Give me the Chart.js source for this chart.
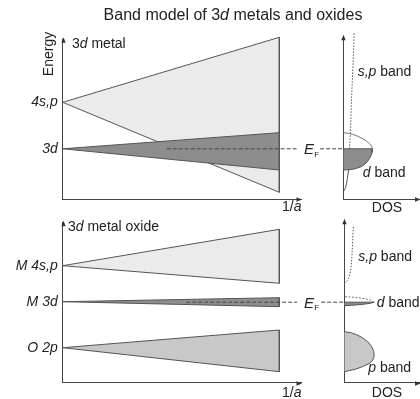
<!DOCTYPE html>
<html>
<head>
<meta charset="utf-8">
<script src="https://cdn.jsdelivr.net/npm/chart.js@4/dist/chart.umd.min.js"></script>
<style>
  html, body { margin: 0; padding: 0; background: #fff; }
  #wrap { position: relative; width: 420px; height: 399px; overflow: hidden; background: #fff; }
  #wrap canvas { position: absolute; left: 0; top: 0; }
</style>
</head>
<body>
<div id="wrap">
  <canvas id="metalBands" width="420" height="399"></canvas>
  <canvas id="metalDos" width="420" height="399"></canvas>
  <canvas id="oxideBands" width="420" height="399"></canvas>
  <canvas id="oxideDos" width="420" height="399"></canvas>
</div>
<script>
// ---------- data (energy in arbitrary units, 1/a from 0 to 1, DOS in arbitrary units) ----------
const latticeEnd = 1.0;

// 3d metal: atomic levels and band edges reached at 1/a = 1
const metalLevelNames = ['4s,p', '3d'];
const metalLevels = [9.7, 5.05];
const metalUpperEdges = [16.2, 6.66];
const metalLowerEdges = [0.7, 2.93];
const metalFermi = 5.05;

// 3d metal DOS
const metalDEnergyFilled = [5.05, 4.7, 4.4, 4.1, 3.8, 3.5, 3.25, 3.05, 2.95, 2.93];
const metalDDosFilled    = [1.0, 0.98, 0.95, 0.9, 0.83, 0.73, 0.6, 0.4, 0.18, 0];
const metalDEnergyEmpty  = [5.05, 5.3, 5.55, 5.8, 6.05, 6.3, 6.5, 6.6, 6.66];
const metalDDosEmpty     = [1.0, 0.97, 0.9, 0.8, 0.67, 0.5, 0.32, 0.18, 0];
const metalSpEnergyFilled = [0.75, 0.9, 1.2, 1.6, 2.1, 2.93, 4.0, 5.05];
const metalSpDosFilled    = [0, 0.04, 0.08, 0.11, 0.14, 0.18, 0.2, 0.21];
const metalSpEnergyEmpty  = [5.05, 6.43, 8, 10, 12, 14, 16.6];
const metalSpDosEmpty     = [0.21, 0.24, 0.26, 0.28, 0.31, 0.34, 0.37];

// 3d metal oxide: levels and band edges at 1/a = 1
const oxideLevelNames = ['M 4s,p', 'M 3d', 'O 2p'];
const oxideLevels = [11.7, 8.1, 3.5];
const oxideUpperEdges = [15.34, 8.5, 5.27];
const oxideLowerEdges = [9.94, 7.6, 1.1];
const oxideFermi = 8.05;

// 3d metal oxide DOS
const oxideSpEnergy = [9.94, 10.05, 10.2, 10.45, 10.8, 11.5, 12.6, 13.8, 15.6];
const oxideSpDos    = [0, 0.05, 0.1, 0.15, 0.19, 0.23, 0.26, 0.28, 0.31];
const oxideDEnergyFilled = [8.05, 7.95, 7.87, 7.8, 7.74, 7.7];
const oxideDDosFilled    = [1.02, 0.9, 0.72, 0.5, 0.25, 0];
const oxideDEnergyEmpty  = [8.05, 8.15, 8.25, 8.35, 8.45, 8.55, 8.6];
const oxideDDosEmpty     = [1.02, 0.98, 0.9, 0.78, 0.58, 0.3, 0];
const oxidePEnergy = [5.1, 5.0, 4.8, 4.5, 4.1, 3.6, 3.1, 2.6, 2.2, 1.9, 1.6, 1.35, 1.1];
const oxidePDos    = [0, 0.22, 0.42, 0.62, 0.8, 0.94, 1.01, 1.02, 0.96, 0.84, 0.62, 0.38, 0];

// ---------- styling ----------
const FONT = '"Liberation Sans", Arial, Helvetica, sans-serif';
const INK = '#222';
const EDGE = '#555';
const LIGHT = '#ebebeb';
const DARK = '#8d8d8d';
const MID = '#c8c8c8';

// ---------- helpers ----------
const pts = (xs, ys) => xs.map((x, i) => ({ x, y: ys[i] }));
const dosPts = (energies, dos) => energies.map((e, i) => ({ x: dos[i], y: e }));

function wedge(level, upper, lower) {
  return [
    { x: 0, y: level },
    { x: latticeEnd, y: upper },
    { x: latticeEnd, y: lower },
    { x: 0, y: level }
  ];
}

function closedToAxis(energies, dos) {
  const curve = dosPts(energies, dos);
  return [{ x: 0, y: energies[0] }, ...curve, { x: 0, y: energies[energies.length - 1] }];
}

function lineSet(data, opts) {
  return Object.assign({
    data,
    borderColor: EDGE,
    borderWidth: 1,
    pointRadius: 0,
    tension: 0,
    fill: false,
    clip: false,
    borderJoinStyle: 'miter'
  }, opts);
}

// axisBox: width reserved left of the plot for the energy level names
function scalesFor(xMax, yMax, axisBox, tickValues, tickNames) {
  const y = {
    type: 'linear', position: 'left', min: 0, max: yMax,
    grid: { display: false, drawTicks: false },
    border: { display: true, color: '#444', width: 1 },
    afterFit: s => { s.width = axisBox; }
  };
  if (tickValues) {
    y.ticks = {
      display: true, autoSkip: false, padding: 5, color: INK,
      font: { family: FONT, size: 14, style: 'italic' },
      callback: (v, i) => tickNames[i]
    };
    y.afterBuildTicks = s => { s.ticks = tickValues.map(v => ({ value: v })); };
  } else {
    y.ticks = { display: false };
  }
  return {
    x: {
      type: 'linear', position: 'bottom', min: 0, max: xMax,
      grid: { display: false, drawTicks: false },
      border: { display: true, color: '#444', width: 1 },
      ticks: { display: false },
      afterFit: s => { s.height = 0; }
    },
    y
  };
}

// arrowheads at the ends of both axes
const arrowHeads = {
  id: 'arrowHeads',
  afterDraw(chart) {
    const { ctx, chartArea: a } = chart;
    const xl = Math.round(a.left) + 0.5;
    const yb = Math.round(a.bottom) + 0.5;
    ctx.save();
    ctx.fillStyle = '#333';
    ctx.beginPath();
    ctx.moveTo(xl, a.top - 2);
    ctx.lineTo(xl - 2.2, a.top + 3.5);
    ctx.lineTo(xl + 2.2, a.top + 3.5);
    ctx.closePath();
    ctx.fill();
    ctx.beginPath();
    ctx.moveTo(a.right + 1, yb);
    ctx.lineTo(a.right - 4.5, yb - 2.2);
    ctx.lineTo(a.right - 4.5, yb + 2.2);
    ctx.closePath();
    ctx.fill();
    ctx.restore();
  }
};

function baseOptions(padding, scales) {
  return {
    responsive: false,
    animation: false,
    devicePixelRatio: 1,
    events: [],
    layout: { padding },
    scales,
    plugins: { legend: { display: false }, tooltip: { enabled: false }, title: { display: false } }
  };
}

// ---------- 3d metal: bands vs 1/a ----------
const metalBandChart = new Chart(document.getElementById('metalBands'), {
  type: 'line',
  data: {
    datasets: [
      lineSet(wedge(metalLevels[0], metalUpperEdges[0], metalLowerEdges[0]),
        { fill: 'shape', backgroundColor: LIGHT, order: 2 }),
      lineSet(wedge(metalLevels[1], metalUpperEdges[1], metalLowerEdges[1]),
        { fill: 'shape', backgroundColor: DARK, order: 1 }),
      lineSet(pts([0.48, 1.082], [metalFermi, metalFermi]),
        { borderColor: '#444', borderDash: [4, 2], order: 0 })
    ]
  },
  options: baseOptions({ left: 0.7, right: 119, top: 39.3, bottom: 199.7 },
    scalesFor(1.1, 16, 62, metalLevels, metalLevelNames)),
  plugins: [arrowHeads]
});

// ---------- 3d metal: density of states ----------
const metalDosChart = new Chart(document.getElementById('metalDos'), {
  type: 'line',
  data: {
    datasets: [
      lineSet(dosPts(metalSpEnergyFilled, metalSpDosFilled), { order: 4 }),
      lineSet(closedToAxis(metalDEnergyFilled, metalDDosFilled),
        { fill: 'shape', backgroundColor: DARK, order: 3 }),
      lineSet(dosPts(metalDEnergyEmpty, metalDDosEmpty), { borderColor: '#777', order: 2 }),
      lineSet(dosPts(metalSpEnergyEmpty, metalSpDosEmpty),
        { borderColor: '#555', borderDash: [1.5, 1.5], order: 1 }),
      lineSet(pts([-0.79, 0], [metalFermi, metalFermi]),
        { borderColor: '#444', borderDash: [4, 2], order: 0 })
    ]
  },
  options: baseOptions({ left: 343.3, right: 0.5, top: 36.7, bottom: 199.7 },
    scalesFor(2.6, 16.26, 0)),
  plugins: [arrowHeads]
});

// ---------- 3d metal oxide: bands vs 1/a ----------
const oxideBandChart = new Chart(document.getElementById('oxideBands'), {
  type: 'line',
  data: {
    datasets: [
      lineSet(wedge(oxideLevels[0], oxideUpperEdges[0], oxideLowerEdges[0]),
        { fill: 'shape', backgroundColor: LIGHT, order: 3 }),
      lineSet(wedge(oxideLevels[1], oxideUpperEdges[1], oxideLowerEdges[1]),
        { fill: 'shape', backgroundColor: DARK, order: 1 }),
      lineSet(wedge(oxideLevels[2], oxideUpperEdges[2], oxideLowerEdges[2]),
        { fill: 'shape', backgroundColor: MID, order: 2 }),
      lineSet(pts([0.57, 1.082], [oxideFermi, oxideFermi]),
        { borderColor: '#444', borderDash: [4, 2], order: 0 })
    ]
  },
  options: baseOptions({ left: 0.7, right: 119, top: 222.7, bottom: 16.3 },
    scalesFor(1.1, 16, 62, oxideLevels, oxideLevelNames)),
  plugins: [arrowHeads]
});

// ---------- free text: title, panel names, axis names, band names ----------
const notes = [
  { parts: [['Band model of 3', 0], ['d', 1], [' metals and oxides', 0]], x: 233, y: 20, size: 16, align: 'center' },
  { parts: [['3', 0], ['d', 1], [' metal', 0]], x: 72, y: 48, size: 14, align: 'left' },
  { parts: [['3', 0], ['d', 1], [' metal oxide', 0]], x: 68, y: 231, size: 14, align: 'left' },
  { parts: [['1/', 0], ['a', 1]], x: 301.5, y: 211, size: 14, align: 'right' },
  { parts: [['1/', 0], ['a', 1]], x: 301.5, y: 397, size: 14, align: 'right' },
  { parts: [['DOS', 0]], x: 387, y: 211.5, size: 14, align: 'center' },
  { parts: [['DOS', 0]], x: 387, y: 396.5, size: 14, align: 'center' },
  { parts: [['s,p', 1], [' band', 0]], x: 357.7, y: 76, size: 14, align: 'left' },
  { parts: [['d', 1], [' band', 0]], x: 362.7, y: 176.5, size: 14, align: 'left' },
  { parts: [['s,p', 1], [' band', 0]], x: 358.3, y: 260.5, size: 14, align: 'left' },
  { parts: [['d', 1], [' band', 0]], x: 376.7, y: 306.5, size: 14, align: 'left' },
  { parts: [['p', 1], [' band', 0]], x: 368.3, y: 372, size: 14, align: 'left' }
];

function drawRich(ctx, parts, x, y, size, align) {
  const fontFor = it => (it ? 'italic ' : '') + size + 'px ' + FONT;
  let w = 0;
  parts.forEach(([t, it]) => { ctx.font = fontFor(it); w += ctx.measureText(t).width; });
  let cx = align === 'center' ? x - w / 2 : align === 'right' ? x - w : x;
  ctx.textAlign = 'left';
  ctx.textBaseline = 'alphabetic';
  parts.forEach(([t, it]) => {
    ctx.font = fontFor(it);
    ctx.fillText(t, cx, y);
    cx += ctx.measureText(t).width;
  });
}

const textLayer = {
  id: 'textLayer',
  afterDraw(chart) {
    const ctx = chart.ctx;
    ctx.save();
    ctx.fillStyle = INK;
    notes.forEach(n => drawRich(ctx, n.parts, n.x, n.y, n.size, n.align));

    // vertical axis name
    ctx.save();
    ctx.translate(53, 54);
    ctx.rotate(-Math.PI / 2);
    ctx.font = '14px ' + FONT;
    ctx.textAlign = 'center';
    ctx.textBaseline = 'alphabetic';
    ctx.fillText('Energy', 0, 0);
    ctx.restore();

    // Fermi level labels, placed on the Fermi energy of each band panel
    const fermiRows = [
      metalBandChart.scales.y.getPixelForValue(metalFermi),
      oxideBandChart.scales.y.getPixelForValue(oxideFermi)
    ];
    fermiRows.forEach(py => {
      ctx.font = 'italic 15px ' + FONT;
      ctx.textAlign = 'left';
      ctx.fillText('E', 304, py + 5.6);
      ctx.font = '8px ' + FONT;
      ctx.fillText('F', 314.3, py + 8);
    });
    ctx.restore();
  }
};

// ---------- 3d metal oxide: density of states ----------
const oxideDosChart = new Chart(document.getElementById('oxideDos'), {
  type: 'line',
  data: {
    datasets: [
      lineSet(closedToAxis(oxidePEnergy, oxidePDos),
        { fill: 'shape', backgroundColor: MID, order: 4 }),
      lineSet(dosPts(oxideSpEnergy, oxideSpDos),
        { borderColor: '#555', borderDash: [1.5, 1.5], order: 3 }),
      lineSet(closedToAxis(oxideDEnergyFilled, oxideDDosFilled),
        { fill: 'shape', backgroundColor: DARK, order: 2 }),
      lineSet(dosPts(oxideDEnergyEmpty, oxideDDosEmpty),
        { borderColor: '#777', borderDash: [2, 1.5], order: 1 }),
      lineSet(pts([-0.79, 0], [oxideFermi, oxideFermi]),
        { borderColor: '#444', borderDash: [4, 2], order: 0 })
    ]
  },
  options: baseOptions({ left: 344.3, right: 0.5, top: 220.7, bottom: 16.3 },
    scalesFor(2.57, 16.2, 0)),
  plugins: [arrowHeads, textLayer]
});
</script>
</body>
</html>
